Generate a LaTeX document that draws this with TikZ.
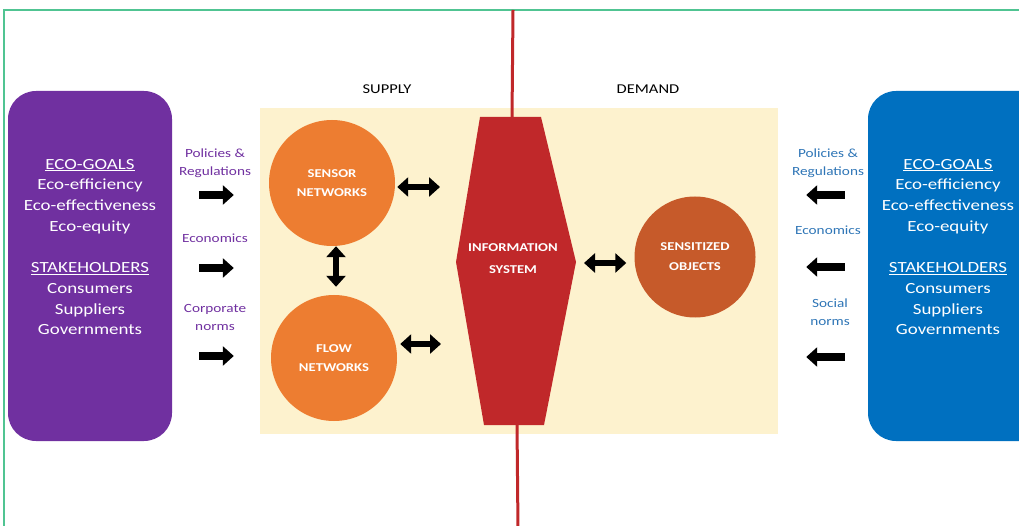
\documentclass[tikz,border=0pt]{standalone}
\usepackage{fontspec}
\setmainfont{Carlito}[FakeStretch=1.22]
\usetikzlibrary{arrows.meta}

\definecolor{frameGreen}{RGB}{80,196,146}
\definecolor{goalPurple}{RGB}{112,48,160}
\definecolor{goalBlue}{RGB}{0,112,192}
\definecolor{labelBlue}{RGB}{46,117,182}
\definecolor{creamFill}{RGB}{253,242,206}
\definecolor{sysRed}{RGB}{192,40,42}
\definecolor{netOrange}{RGB}{237,125,49}
\definecolor{objOrange}{RGB}{198,90,42}

\tikzset{
  goalbox/.style={rounded corners=28pt, minimum width=164pt, minimum height=350pt, inner sep=0pt},
  goaltext/.style={text=white, align=center, font=\fontsize{15.5}{20.7}\selectfont},
  flowlabel/.style={align=center, font=\fontsize{12.5}{18}\selectfont},
  sidehead/.style={font=\fontsize{13.5}{16}\selectfont},
  bubble/.style={circle, inner sep=0pt, text=white, align=center,
    font=\bfseries\fontsize{12}{19}\selectfont},
  onearrow/.style={line width=8pt, -{Triangle[length=11pt, width=19pt]}},
  twoarrow/.style={line width=6pt, {Triangle[length=11pt, width=19pt]}-{Triangle[length=11pt, width=19pt]}}
}

\begin{document}
\begin{tikzpicture}[x=1pt, y=-1pt]
\useasboundingbox (0,0) rectangle (1019,526);
\clip (0,0) rectangle (1019,526);

% frame lines along the top and left edges
\draw[frameGreen, line width=2pt] (4,526) -- (4,10) -- (1025,10);

% supply/demand field
\node[fill=creamFill, minimum width=518pt, minimum height=326pt, inner sep=0pt] (field) at (519,271) {};

% side boxes
\node[goalbox, fill=goalPurple] (lbox) at (90,266) {};
\node[goalbox, fill=goalBlue, minimum width=190pt] (rbox) at (963,266) {};

\node[goaltext] (ltext) at (90,247) {\underline{ECO-GOALS}\\Eco-efficiency\\Eco-effectiveness\\Eco-equity\\[20.7pt]\underline{STAKEHOLDERS}\\Consumers\\Suppliers\\Governments};
\node[goaltext] (rtext) at (948,247) {\underline{ECO-GOALS}\\Eco-efficiency\\Eco-effectiveness\\Eco-equity\\[20.7pt]\underline{STAKEHOLDERS}\\Consumers\\Suppliers\\Governments};

% divider line and information system hexagon
\coordinate (hTL) at (480,117);
\coordinate (hTR) at (541,117);
\coordinate (hR) at (576,262);
\coordinate (hBR) at (544,425);
\coordinate (hBL) at (484,425);
\coordinate (hL) at (456,262);
\coordinate (lineTop) at (513,10);
\coordinate (lineBot) at (518,530);
\draw[sysRed, line width=3pt] (lineTop) -- (512,118);
\draw[sysRed, line width=3pt] (517,424) -- (lineBot);
\fill[sysRed] (hTL) -- (hTR) -- (hR) -- (hBR) -- (hBL) -- (hL) -- cycle;
\node[text=white, align=center, font=\bfseries\fontsize{12}{22}\selectfont] (is) at (513,259) {INFORMATION\\SYSTEM};

% headings
\node[sidehead] (supply) at (387,89) {SUPPLY};
\node[sidehead] (demand) at (648,89) {DEMAND};

% networks and objects
\node[bubble, fill=netOrange, minimum size=126pt] (sn) at (332,183) {SENSOR\\NETWORKS};
\node[bubble, fill=netOrange, minimum size=126pt] (fn) at (334,358) {FLOW\\NETWORKS};
\node[bubble, fill=objOrange, minimum size=121pt, font=\bfseries\fontsize{12}{20}\selectfont] (so) at (695,257) {SENSITIZED\\OBJECTS};

% two-way links
\coordinate (isL1) at (440,187);
\coordinate (isL2) at (441,344);
\coordinate (isR) at (584,263);
\draw[twoarrow] (sn.east |- isL1) ++(2,0) -- (isL1);
\draw[twoarrow] (fn.east |- isL2) ++(3,0) -- (isL2);
\draw[twoarrow, shorten >=8pt] (isR) -- (so.west |- isR);
\draw[twoarrow, shorten >=8pt] (sn.south -| 336,0) -- (fn.north -| 336,0);

% drivers on the supply side
\node[flowlabel, text=goalPurple] (lp) at (215,163) {Policies \&\\Regulations};
\node[flowlabel, text=goalPurple] (le) at (215,238) {Economics};
\node[flowlabel, text=goalPurple] (lc) at (215,317) {Corporate\\norms};
\draw[onearrow, shorten <=27pt, shorten >=26pt] (lbox.east |- 0,195) -- (field.west |- 0,195);
\draw[onearrow, shorten <=27pt, shorten >=26pt] (lbox.east |- 0,268) -- (field.west |- 0,268);
\draw[onearrow, shorten <=27pt, shorten >=26pt] (lbox.east |- 0,356) -- (field.west |- 0,356);

% drivers on the demand side
\node[flowlabel, text=labelBlue] (rp) at (828,163) {Policies \&\\Regulations};
\node[flowlabel, text=labelBlue] (re) at (828,230) {Economics};
\node[flowlabel, text=labelBlue] (rs) at (830,312) {Social\\norms};
\draw[onearrow, shorten <=23pt, shorten >=28pt] (rbox.west |- 0,195) -- (field.east |- 0,195);
\draw[onearrow, shorten <=23pt, shorten >=28pt] (rbox.west |- 0,267) -- (field.east |- 0,267);
\draw[onearrow, shorten <=23pt, shorten >=28pt] (rbox.west |- 0,357) -- (field.east |- 0,357);
\end{tikzpicture}
\end{document}
